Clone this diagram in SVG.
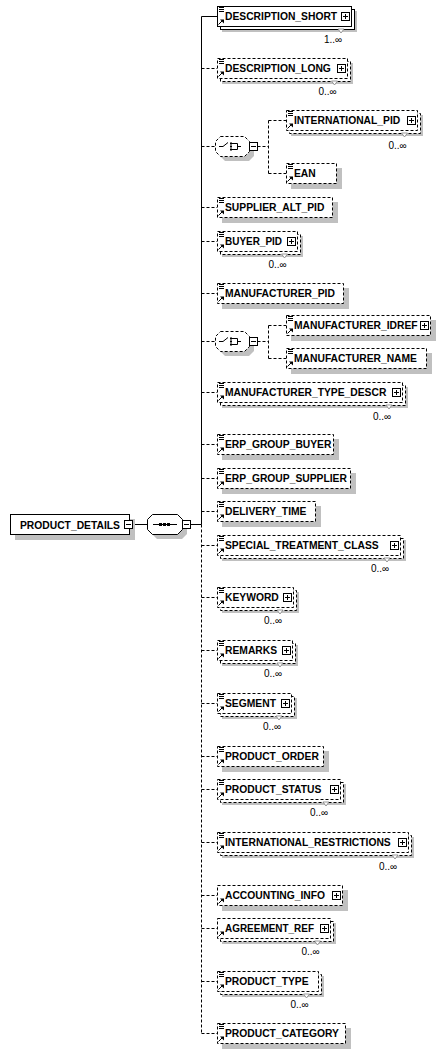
<svg xmlns="http://www.w3.org/2000/svg" xmlns:xlink="http://www.w3.org/1999/xlink" width="442" height="1054" viewBox="0 0 442 1054">
<style>
.sh{fill:#c0c0c0}
.bx{fill:#fff;stroke:#000;stroke-width:1}
.opt{stroke-dasharray:3 2}
.t{font-family:"Liberation Sans",Arial,sans-serif;font-weight:bold;font-size:10.3px;fill:#000}
.o{font-family:"Liberation Sans",Arial,sans-serif;font-size:10px;fill:#000;text-anchor:middle}
.c{stroke:#000;fill:none;stroke-width:1}
.d{stroke-dasharray:3 2}
</style>
<defs>
<g id="doc"><path d="M0 0.5h5M0 2.5h5M0 4.5h5" stroke="#000" fill="none"/></g>
<g id="ref"><path d="M0.5 5.5L4 2" stroke="#000" fill="none"/><path d="M2 0.5h4v4z" fill="#000"/></g>
<g id="plus"><rect x="0.5" y="0.5" width="8" height="8" fill="#fff" stroke="#000"/><path d="M2 4.5h5M4.5 2v5" stroke="#000" fill="none"/></g>
<g id="minus"><rect x="0.5" y="0.5" width="8" height="8" fill="#fff" stroke="#000"/><path d="M2 4.5h5" stroke="#000" fill="none"/></g>
<path id="occ" d="M0 0h6l-3 4z" fill="#fff" stroke="#808080" stroke-width="0.8"/>
<g id="choiceIcon"><path d="M4 0.5H8L13 -3.5" stroke="#000" fill="none"/><rect x="15" y="-3.5" width="2" height="2" fill="#000"/><rect x="15" y="-0.5" width="2" height="2" fill="#000"/><rect x="15" y="2.5" width="2" height="2" fill="#000"/><path d="M17 -2.5H22.5V3.5H17M22.5 0.5H26" stroke="#000" fill="none"/></g>
</defs>

<g id="connectors">
<path class="c" d="M132.5 524.5H147"/>
<path class="c" d="M190.5 524.5H201.5"/>
<path class="c" d="M201.5 16.5V524.5"/>
<path class="c d" d="M201.5 524.5V1033.5"/>
<path class="c" d="M201.5 16.5H217"/>
<path class="c d" d="M201.5 68.5H217M201.5 146.5H215M201.5 207.5H217M201.5 241.5H217M201.5 293.5H217M201.5 341.5H215M201.5 392.5H217M201.5 444.5H217M201.5 478.5H217M201.5 511.5H217M201.5 545.5H217M201.5 597.5H217M201.5 650.5H217M201.5 703.5H217M201.5 756.5H217M201.5 789.5H217M201.5 842.5H217M201.5 895.5H217M201.5 928.5H217M201.5 981.5H217M201.5 1033.5H217"/>
<path class="c d" d="M257.5 146.5H268.5M268.5 120.5V173.5M268.5 120.5H286M268.5 173.5H286"/>
<path class="c d" d="M257.5 341.5H268.5M268.5 325.5V358.5M268.5 325.5H286M268.5 358.5H286"/>
</g>

<g id="PRODUCT_DETAILS">
<rect class="sh" x="15" y="519" width="120" height="21"/>
<rect class="bx" x="10.5" y="514.5" width="119" height="20"/>
<text class="t" x="20" y="528.5">PRODUCT_DETAILS</text>
<use xlink:href="#minus" href="#minus" x="124" y="520"/>
</g>

<g id="sequence">
<polygon class="sh" points="157,519 182,519 187,524 187,534 182,539 157,539 152,534 152,524"/>
<polygon class="bx" points="152.5,514.5 177.5,514.5 182.5,519.5 182.5,529.5 177.5,534.5 152.5,534.5 147.5,529.5 147.5,519.5"/>
<path class="c" d="M153 524.5H177"/>
<rect x="159" y="523" width="3" height="3" fill="#000"/>
<rect x="163" y="523" width="3" height="3" fill="#000"/>
<rect x="167" y="523" width="3" height="3" fill="#000"/>
<use xlink:href="#minus" href="#minus" x="182" y="520"/>
</g>

<g id="choice1">
<polygon class="sh" points="225,141 249,141 254,146 254,156 249,161 225,161 220,156 220,146"/>
<polygon class="bx opt" points="220.5,136.5 244.5,136.5 249.5,141.5 249.5,151.5 244.5,156.5 220.5,156.5 215.5,151.5 215.5,141.5"/>
<use xlink:href="#choiceIcon" href="#choiceIcon" x="215" y="146"/>
<use xlink:href="#minus" href="#minus" x="249" y="142"/>
</g>

<g id="choice2">
<polygon class="sh" points="225,336 249,336 254,341 254,351 249,356 225,356 220,351 220,341"/>
<polygon class="bx opt" points="220.5,331.5 244.5,331.5 249.5,336.5 249.5,346.5 244.5,351.5 220.5,351.5 215.5,346.5 215.5,336.5"/>
<use xlink:href="#choiceIcon" href="#choiceIcon" x="215" y="341"/>
<use xlink:href="#minus" href="#minus" x="249" y="337"/>
</g>

<g id="DESCRIPTION_SHORT">
<rect class="sh" x="222" y="11" width="135" height="21"/>
<rect class="bx" x="220.5" y="9.5" width="134" height="20"/>
<rect class="bx" x="217.5" y="6.5" width="134" height="20"/>
<use xlink:href="#doc" href="#doc" x="219" y="7"/>
<use xlink:href="#ref" href="#ref" x="218" y="19"/>
<use xlink:href="#plus" href="#plus" x="341" y="12"/>
<text class="t" x="225" y="20">DESCRIPTION_SHORT</text>
<use xlink:href="#occ" href="#occ" x="338" y="29"/>
<text class="o" x="333" y="42.5">1..∞</text>
</g>

<g id="DESCRIPTION_LONG">
<rect class="sh" x="222" y="63" width="131" height="21"/>
<rect class="bx opt" x="220.5" y="61.5" width="130" height="20"/>
<rect class="bx opt" x="217.5" y="58.5" width="130" height="20"/>
<use xlink:href="#doc" href="#doc" x="219" y="59"/>
<use xlink:href="#ref" href="#ref" x="218" y="71"/>
<use xlink:href="#plus" href="#plus" x="337" y="64"/>
<text class="t" x="225" y="72">DESCRIPTION_LONG</text>
<use xlink:href="#occ" href="#occ" x="331.5" y="81"/>
<text class="o" x="327.5" y="94.5">0..∞</text>
</g>

<g id="INTERNATIONAL_PID">
<rect class="sh" x="291" y="115" width="132" height="21"/>
<rect class="bx opt" x="289.5" y="113.5" width="131" height="20"/>
<rect class="bx opt" x="286.5" y="110.5" width="131" height="20"/>
<use xlink:href="#doc" href="#doc" x="288" y="111"/>
<use xlink:href="#ref" href="#ref" x="287" y="123"/>
<use xlink:href="#plus" href="#plus" x="407" y="116"/>
<text class="t" x="294" y="124">INTERNATIONAL_PID</text>
<use xlink:href="#occ" href="#occ" x="401.5" y="133"/>
<text class="o" x="397.5" y="148.5">0..∞</text>
</g>

<g id="EAN">
<rect class="sh" x="291" y="168" width="51" height="21"/>
<rect class="bx opt" x="286.5" y="163.5" width="50" height="20"/>
<use xlink:href="#doc" href="#doc" x="288" y="164"/>
<use xlink:href="#ref" href="#ref" x="287" y="176"/>
<text class="t" x="294" y="177">EAN</text>
</g>

<g id="SUPPLIER_ALT_PID">
<rect class="sh" x="222" y="202" width="116" height="21"/>
<rect class="bx opt" x="217.5" y="197.5" width="115" height="20"/>
<use xlink:href="#doc" href="#doc" x="219" y="198"/>
<use xlink:href="#ref" href="#ref" x="218" y="210"/>
<text class="t" x="225" y="211">SUPPLIER_ALT_PID</text>
</g>

<g id="BUYER_PID">
<rect class="sh" x="222" y="236" width="81" height="21"/>
<rect class="bx opt" x="220.5" y="234.5" width="80" height="20"/>
<rect class="bx opt" x="217.5" y="231.5" width="80" height="20"/>
<use xlink:href="#doc" href="#doc" x="219" y="232"/>
<use xlink:href="#ref" href="#ref" x="218" y="244"/>
<use xlink:href="#plus" href="#plus" x="287" y="237"/>
<text class="t" x="225" y="245" textLength="57" lengthAdjust="spacingAndGlyphs">BUYER_PID</text>
<use xlink:href="#occ" href="#occ" x="281.5" y="254"/>
<text class="o" x="277.5" y="267.5">0..∞</text>
</g>

<g id="MANUFACTURER_PID">
<rect class="sh" x="222" y="288" width="127" height="21"/>
<rect class="bx opt" x="217.5" y="283.5" width="126" height="20"/>
<use xlink:href="#doc" href="#doc" x="219" y="284"/>
<use xlink:href="#ref" href="#ref" x="218" y="296"/>
<text class="t" x="225" y="297">MANUFACTURER_PID</text>
</g>

<g id="MANUFACTURER_IDREF">
<rect class="sh" x="291" y="320" width="145" height="21"/>
<rect class="bx opt" x="286.5" y="315.5" width="144" height="20"/>
<use xlink:href="#doc" href="#doc" x="288" y="316"/>
<use xlink:href="#ref" href="#ref" x="287" y="328"/>
<use xlink:href="#plus" href="#plus" x="420" y="321"/>
<text class="t" x="294" y="329">MANUFACTURER_IDREF</text>
</g>

<g id="MANUFACTURER_NAME">
<rect class="sh" x="291" y="353" width="141" height="21"/>
<rect class="bx opt" x="286.5" y="348.5" width="140" height="20"/>
<use xlink:href="#doc" href="#doc" x="288" y="349"/>
<use xlink:href="#ref" href="#ref" x="287" y="361"/>
<text class="t" x="294" y="362">MANUFACTURER_NAME</text>
</g>

<g id="MANUFACTURER_TYPE_DESCR">
<rect class="sh" x="222" y="387" width="186" height="21"/>
<rect class="bx opt" x="220.5" y="385.5" width="185" height="20"/>
<rect class="bx opt" x="217.5" y="382.5" width="185" height="20"/>
<use xlink:href="#doc" href="#doc" x="219" y="383"/>
<use xlink:href="#ref" href="#ref" x="218" y="395"/>
<use xlink:href="#plus" href="#plus" x="392" y="388"/>
<text class="t" x="225" y="396">MANUFACTURER_TYPE_DESCR</text>
<use xlink:href="#occ" href="#occ" x="386" y="405"/>
<text class="o" x="382" y="419.5">0..∞</text>
</g>

<g id="ERP_GROUP_BUYER">
<rect class="sh" x="222" y="439" width="117" height="21"/>
<rect class="bx opt" x="217.5" y="434.5" width="116" height="20"/>
<use xlink:href="#doc" href="#doc" x="219" y="435"/>
<use xlink:href="#ref" href="#ref" x="218" y="447"/>
<text class="t" x="225" y="448">ERP_GROUP_BUYER</text>
</g>

<g id="ERP_GROUP_SUPPLIER">
<rect class="sh" x="222" y="473" width="134" height="21"/>
<rect class="bx opt" x="217.5" y="468.5" width="133" height="20"/>
<use xlink:href="#doc" href="#doc" x="219" y="469"/>
<use xlink:href="#ref" href="#ref" x="218" y="481"/>
<text class="t" x="225" y="482">ERP_GROUP_SUPPLIER</text>
</g>

<g id="DELIVERY_TIME">
<rect class="sh" x="222" y="506" width="99" height="21"/>
<rect class="bx opt" x="217.5" y="501.5" width="98" height="20"/>
<use xlink:href="#doc" href="#doc" x="219" y="502"/>
<use xlink:href="#ref" href="#ref" x="218" y="514"/>
<text class="t" x="225" y="515">DELIVERY_TIME</text>
</g>

<g id="SPECIAL_TREATMENT_CLASS">
<rect class="sh" x="222" y="540" width="184" height="21"/>
<rect class="bx opt" x="220.5" y="538.5" width="183" height="20"/>
<rect class="bx opt" x="217.5" y="535.5" width="183" height="20"/>
<use xlink:href="#doc" href="#doc" x="219" y="536"/>
<use xlink:href="#ref" href="#ref" x="218" y="548"/>
<use xlink:href="#plus" href="#plus" x="390" y="541"/>
<text class="t" x="225" y="549">SPECIAL_TREATMENT_CLASS</text>
<use xlink:href="#occ" href="#occ" x="384" y="558"/>
<text class="o" x="380" y="571.5">0..∞</text>
</g>

<g id="KEYWORD">
<rect class="sh" x="222" y="592" width="77" height="21"/>
<rect class="bx opt" x="220.5" y="590.5" width="76" height="20"/>
<rect class="bx opt" x="217.5" y="587.5" width="76" height="20"/>
<use xlink:href="#doc" href="#doc" x="219" y="588"/>
<use xlink:href="#ref" href="#ref" x="218" y="600"/>
<use xlink:href="#plus" href="#plus" x="283" y="593"/>
<text class="t" x="225" y="601">KEYWORD</text>
<use xlink:href="#occ" href="#occ" x="277" y="610"/>
<text class="o" x="273" y="623.5">0..∞</text>
</g>

<g id="REMARKS">
<rect class="sh" x="222" y="645" width="76" height="21"/>
<rect class="bx opt" x="220.5" y="643.5" width="75" height="20"/>
<rect class="bx opt" x="217.5" y="640.5" width="75" height="20"/>
<use xlink:href="#doc" href="#doc" x="219" y="641"/>
<use xlink:href="#ref" href="#ref" x="218" y="653"/>
<use xlink:href="#plus" href="#plus" x="282" y="646"/>
<text class="t" x="225" y="654">REMARKS</text>
<use xlink:href="#occ" href="#occ" x="277" y="663"/>
<text class="o" x="273" y="676.5">0..∞</text>
</g>

<g id="SEGMENT">
<rect class="sh" x="222" y="698" width="75" height="21"/>
<rect class="bx opt" x="220.5" y="696.5" width="74" height="20"/>
<rect class="bx opt" x="217.5" y="693.5" width="74" height="20"/>
<use xlink:href="#doc" href="#doc" x="219" y="694"/>
<use xlink:href="#ref" href="#ref" x="218" y="706"/>
<use xlink:href="#plus" href="#plus" x="281" y="699"/>
<text class="t" x="225" y="707">SEGMENT</text>
<use xlink:href="#occ" href="#occ" x="276" y="716"/>
<text class="o" x="272" y="729.5">0..∞</text>
</g>

<g id="PRODUCT_ORDER">
<rect class="sh" x="222" y="751" width="107" height="21"/>
<rect class="bx opt" x="217.5" y="746.5" width="106" height="20"/>
<use xlink:href="#doc" href="#doc" x="219" y="747"/>
<use xlink:href="#ref" href="#ref" x="218" y="759"/>
<text class="t" x="225" y="760">PRODUCT_ORDER</text>
</g>

<g id="PRODUCT_STATUS">
<rect class="sh" x="222" y="784" width="124" height="21"/>
<rect class="bx opt" x="220.5" y="782.5" width="123" height="20"/>
<rect class="bx opt" x="217.5" y="779.5" width="123" height="20"/>
<use xlink:href="#doc" href="#doc" x="219" y="780"/>
<use xlink:href="#ref" href="#ref" x="218" y="792"/>
<use xlink:href="#plus" href="#plus" x="330" y="785"/>
<text class="t" x="225" y="793">PRODUCT_STATUS</text>
<use xlink:href="#occ" href="#occ" x="323" y="802"/>
<text class="o" x="319" y="815.5">0..∞</text>
</g>

<g id="INTERNATIONAL_RESTRICTIONS">
<rect class="sh" x="222" y="837" width="192" height="21"/>
<rect class="bx opt" x="220.5" y="835.5" width="191" height="20"/>
<rect class="bx opt" x="217.5" y="832.5" width="191" height="20"/>
<use xlink:href="#doc" href="#doc" x="219" y="833"/>
<use xlink:href="#ref" href="#ref" x="218" y="845"/>
<use xlink:href="#plus" href="#plus" x="398" y="838"/>
<text class="t" x="225" y="846">INTERNATIONAL_RESTRICTIONS</text>
<use xlink:href="#occ" href="#occ" x="392" y="855"/>
<text class="o" x="388" y="869.5">0..∞</text>
</g>

<g id="ACCOUNTING_INFO">
<rect class="sh" x="222" y="890" width="126" height="21"/>
<rect class="bx opt" x="217.5" y="885.5" width="125" height="20"/>
<use xlink:href="#ref" href="#ref" x="218" y="898"/>
<use xlink:href="#plus" href="#plus" x="332" y="891"/>
<text class="t" x="225" y="899">ACCOUNTING_INFO</text>
</g>

<g id="AGREEMENT_REF">
<rect class="sh" x="222" y="923" width="114" height="21"/>
<rect class="bx opt" x="220.5" y="921.5" width="113" height="20"/>
<rect class="bx opt" x="217.5" y="918.5" width="113" height="20"/>
<use xlink:href="#ref" href="#ref" x="218" y="931"/>
<use xlink:href="#plus" href="#plus" x="320" y="924"/>
<text class="t" x="225" y="932" textLength="89" lengthAdjust="spacingAndGlyphs">AGREEMENT_REF</text>
<use xlink:href="#occ" href="#occ" x="314.5" y="941"/>
<text class="o" x="310.5" y="954.5">0..∞</text>
</g>

<g id="PRODUCT_TYPE">
<rect class="sh" x="222" y="976" width="102" height="21"/>
<rect class="bx opt" x="220.5" y="974.5" width="101" height="20"/>
<rect class="bx opt" x="217.5" y="971.5" width="101" height="20"/>
<use xlink:href="#doc" href="#doc" x="219" y="972"/>
<use xlink:href="#ref" href="#ref" x="218" y="984"/>
<text class="t" x="225" y="985">PRODUCT_TYPE</text>
<use xlink:href="#occ" href="#occ" x="303.5" y="994"/>
<text class="o" x="299.5" y="1007.5">0..∞</text>
</g>

<g id="PRODUCT_CATEGORY">
<rect class="sh" x="222" y="1028" width="129" height="21"/>
<rect class="bx opt" x="217.5" y="1023.5" width="128" height="20"/>
<use xlink:href="#doc" href="#doc" x="219" y="1024"/>
<use xlink:href="#ref" href="#ref" x="218" y="1036"/>
<text class="t" x="225" y="1037">PRODUCT_CATEGORY</text>
</g>
</svg>
